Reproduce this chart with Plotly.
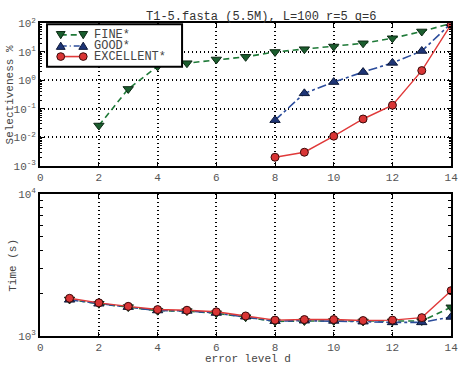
import plotly.graph_objects as go

# ---- data ----
d_fine_sel = [2, 3, 4, 5, 6, 7, 8, 9, 10, 11, 12, 13, 14]
fine_sel = [0.026, 0.5, 3.1, 4.0, 5.4, 6.7, 9.9, 12.4, 15.4, 20, 30, 52, 100]
d_good_sel = [8, 9, 10, 11, 12, 13, 14]
good_sel = [0.04, 0.35, 0.87, 1.95, 4.1, 10.7, 100]
d_exc_sel = [8, 9, 10, 11, 12, 13, 14]
exc_sel = [0.002, 0.003, 0.011, 0.044, 0.134, 2.2, 92]

d_time = [1, 2, 3, 4, 5, 6, 7, 8, 9, 10, 11, 12, 13, 14]
fine_time = [1810, 1690, 1600, 1510, 1500, 1450, 1360, 1270, 1280, 1280, 1270, 1270, 1280, 1595]
good_time = [1800, 1690, 1600, 1515, 1505, 1455, 1370, 1275, 1285, 1280, 1265, 1250, 1250, 1365]
exc_time = [1845, 1715, 1620, 1538, 1521, 1483, 1387, 1297, 1309, 1309, 1288, 1297, 1350, 2088]

series_names = ["FINE*", "GOOD*", "EXCELLENT*"]
sel_tickvals = [0.001, 0.01, 0.1, 1, 10, 100]
sel_ticktext = ["10<sup>-3</sup>", "10<sup>-2</sup>", "10<sup>-1</sup>", "10<sup>0</sup>", "10<sup>1</sup>", "10<sup>2</sup>"]
time_tickvals = [1000, 10000]
time_ticktext = ["10<sup>3</sup>", "10<sup>4</sup>"]
x_tickvals = [0, 2, 4, 6, 8, 10, 12, 14]

W, H = 465, 374
GREEN = "#1f7a38"
GREEN_M = "#1b5e2e"
BLUE = "#2b4c9b"
BLUE_M = "#1e3576"
RED = "#e03a3a"
RED_M = "#d93535"
FONT = "Liberation Mono"

styles = [
    dict(line=dict(color=GREEN, width=1.6, dash="6px,4px"),
         marker=dict(symbol="triangle-down", size=9, color=GREEN_M, line=dict(color="#0d2a14", width=1))),
    dict(line=dict(color=BLUE, width=1.6, dash="dashdot"),
         marker=dict(symbol="triangle-up", size=9, color=BLUE_M, line=dict(color="#0d1838", width=1))),
    dict(line=dict(color=RED, width=1.4),
         marker=dict(symbol="circle", size=8, color=RED_M, line=dict(color="#3a0a0a", width=1))),
]

fig = go.Figure()
for (xs, ys), st, nm in zip([(d_fine_sel, fine_sel), (d_good_sel, good_sel), (d_exc_sel, exc_sel)],
                            styles, series_names):
    fig.add_trace(go.Scatter(x=xs, y=ys, name=nm, mode="lines+markers", xaxis="x", yaxis="y",
                             showlegend=False, **st))
for ys, st, nm in zip([fine_time, good_time, exc_time], styles, series_names):
    fig.add_trace(go.Scatter(x=d_time, y=ys, name=nm, mode="lines+markers", xaxis="x2", yaxis="y2",
                             showlegend=False, **st))

tickfont = dict(family=FONT, size=11, color="#555555")
GRIDDASH = "1px,3px"
xax = dict(range=[0, 14], tickvals=x_tickvals, ticks="inside", ticklen=4, tickcolor="black",
           showline=True, linecolor="black", linewidth=2, mirror="ticks",
           showgrid=True, gridcolor="black", griddash=GRIDDASH, gridwidth=1.5,
           zeroline=False, tickfont=tickfont, domain=[38/W, 458/W])

sel_minor = [m * 10.0 ** k for k in range(-3, 2) for m in range(2, 10)]
time_minor = [m * 1000 for m in range(2, 10)]


def px(x):
    return x / W


def py(y):
    return 1 - y / H


# ---- hand-built legend box (layout decoration) ----
shapes = [dict(type="rect", xref="paper", yref="paper", x0=px(45), x1=px(183), y0=py(62), y1=py(18),
               line=dict(color="black", width=2), fillcolor="white", layer="above")]
annotations = []
rows = [29, 40.5, 51.5]
dashes = ["6px,4px", "6px,3px,1px,3px", "solid"]
for i, (nm, st, ry) in enumerate(zip(series_names, styles, rows)):
    shapes.append(dict(type="line", xref="paper", yref="paper", x0=px(59), x1=px(82), y0=py(ry), y1=py(ry),
                       line=dict(color=st["line"]["color"], width=1.6, dash=dashes[i]), layer="above"))
    for mx in (59, 82):
        fc = st["marker"]["color"]
        lc = st["marker"]["line"]["color"]
        if i == 0:
            path = f"M {px(mx-4.5)},{py(ry-3.5)} L {px(mx+4.5)},{py(ry-3.5)} L {px(mx)},{py(ry+4)} Z"
            shapes.append(dict(type="path", xref="paper", yref="paper", path=path, fillcolor=fc,
                               line=dict(color=lc, width=1), layer="above"))
        elif i == 1:
            path = f"M {px(mx-4.5)},{py(ry+3.5)} L {px(mx+4.5)},{py(ry+3.5)} L {px(mx)},{py(ry-4)} Z"
            shapes.append(dict(type="path", xref="paper", yref="paper", path=path, fillcolor=fc,
                               line=dict(color=lc, width=1), layer="above"))
        else:
            shapes.append(dict(type="circle", xref="paper", yref="paper", x0=px(mx-4), x1=px(mx+4),
                               y0=py(ry+4), y1=py(ry-4), fillcolor=fc,
                               line=dict(color=lc, width=1), layer="above"))
    annotations.append(dict(text=nm, x=px(91), y=py(ry), xref="paper", yref="paper", showarrow=False,
                            xanchor="left", yanchor="middle", height=11, valign="middle",
                            font=dict(family=FONT, size=12, color="#444444")))

annotations += [
    dict(text="T1-5.fasta (5.5M), L=100 r=5 q=6", x=px(264), y=py(10),
         xref="paper", yref="paper", showarrow=False, xanchor="center", yanchor="middle",
         font=dict(family=FONT, size=12, color="#333333")),
    dict(text="Selectiveness %", x=px(7), y=py(91), xref="paper", yref="paper",
         showarrow=False, textangle=-90, xanchor="center", yanchor="middle",
         font=dict(family=FONT, size=11, color="#444444")),
    dict(text="Time (s)", x=px(10), y=py(268), xref="paper", yref="paper",
         showarrow=False, textangle=-90, xanchor="center", yanchor="middle",
         font=dict(family=FONT, size=11, color="#444444")),
    dict(text="error level d", x=px(250), y=py(366), xref="paper", yref="paper",
         showarrow=False, xanchor="center", yanchor="middle",
         font=dict(family=FONT, size=11, color="#444444")),
]

fig.update_layout(
    width=W, height=H, autosize=False,
    margin=dict(l=0, r=0, t=0, b=0),
    paper_bgcolor="white", plot_bgcolor="white",
    xaxis=dict(xax, anchor="y"),
    xaxis2=dict(xax, anchor="y2"),
    yaxis=dict(type="log", range=[-3, 2], tickvals=sel_tickvals, ticktext=sel_ticktext,
               ticks="inside", ticklen=4, tickcolor="black",
               minor=dict(tickvals=sel_minor, ticks="inside", ticklen=2, tickcolor="black", showgrid=False),
               showline=True, linecolor="black", linewidth=2, mirror="ticks",
               showgrid=True, gridcolor="black", griddash=GRIDDASH, gridwidth=1.5,
               zeroline=False, tickfont=tickfont, anchor="x",
               domain=[py(165), py(17)]),
    yaxis2=dict(type="log", range=[3, 4], tickvals=time_tickvals, ticktext=time_ticktext,
                ticks="inside", ticklen=4, tickcolor="black",
                minor=dict(tickvals=time_minor, ticks="inside", ticklen=3, tickcolor="black", showgrid=False),
                showline=True, linecolor="black", linewidth=2, mirror="ticks",
                showgrid=False, zeroline=False, tickfont=tickfont, anchor="x2",
                domain=[py(342), py(194)]),
    showlegend=False,
    shapes=shapes,
    annotations=annotations,
)

fig.write_html("out.html")
